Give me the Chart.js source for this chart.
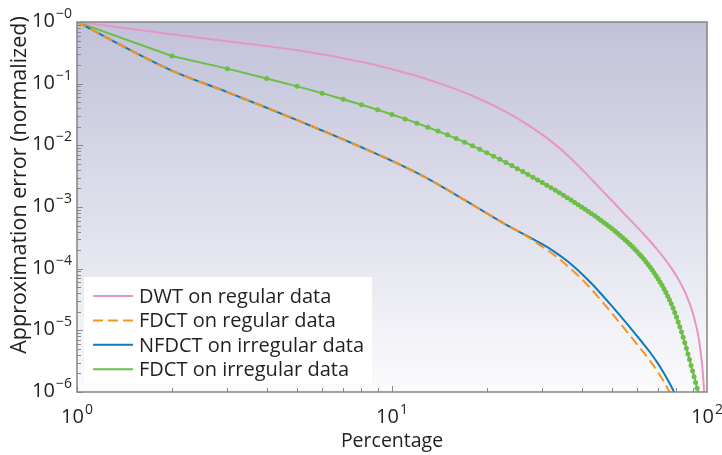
<!DOCTYPE html>
<html>
<head>
<meta charset="utf-8">
<script src="https://cdn.jsdelivr.net/npm/chart.js@4"></script>
<style>
  html, body { margin: 0; padding: 0; background: #fff; }
  canvas { display: block; }
</style>
</head>
<body>
<canvas id="grafico" width="722" height="455"></canvas>
<script>
// Error de aproximación (normalizado) frente al porcentaje de coeficientes, ejes log-log

const nombres = [
  "DWT on regular data",
  "FDCT on regular data",
  "NFDCT on irregular data",
  "FDCT on irregular data",
];

// DWT sobre datos regulares
const dwtPct = [1, 2, 3, 4, 5, 6, 7, 8, 9, 10, 12, 14, 16, 18, 20, 23, 26, 30, 33, 36,
  40, 43, 46, 50, 53, 56, 60, 63, 66, 70, 73, 76, 80, 83, 86, 90, 92, 94, 96, 97, 98, 99];
const dwtErr = [1, 0.635, 0.489, 0.407, 0.348, 0.299, 0.259, 0.225, 0.197, 0.172,
  0.133, 0.103, 0.0809, 0.0637, 0.05, 0.0348, 0.0243, 0.0149, 0.01026, 0.00698,
  0.00412, 0.00281, 0.00195, 0.00125, 0.000912, 0.000681, 0.000471, 0.000361, 0.000278, 0.000195,
  0.00015, 0.000113, 0.000076, 0.0000543, 0.0000371, 0.0000197, 0.0000129, 0.00000773, 0.00000351, 0.00000207,
  0.00000094, 0.0000003];

// FDCT regular y NFDCT comparten los mismos porcentajes
const fdctPct = [1, 2, 3, 4, 5, 6, 7, 8, 9, 10, 12, 14, 16, 18, 20, 23, 26, 30, 33, 36,
  40, 43, 46, 50, 53, 56, 60, 63, 66, 70, 73, 76, 78, 80];
const fdctRegErr = [1, 0.1626, 0.0731, 0.0407, 0.0256, 0.0174, 0.01249, 0.00931, 0.00714, 0.00561,
  0.00357, 0.00233, 0.00156, 0.00109, 0.000791, 0.000519, 0.000369, 0.000227, 0.000161, 0.000112,
  0.0000679, 0.0000461, 0.0000311, 0.0000187, 0.000013, 0.0000092, 0.00000594, 0.00000435, 0.00000319, 0.00000207,
  0.00000147, 0.00000101, 0.00000078, 0.0000006];
const nfdctErr = [1, 0.1626, 0.0731, 0.0407, 0.0256, 0.0174, 0.01249, 0.00931, 0.00714, 0.00561,
  0.00357, 0.00233, 0.00156, 0.00109, 0.000791, 0.000519, 0.000369, 0.000249, 0.000184, 0.000133,
  0.0000828, 0.0000574, 0.0000395, 0.0000244, 0.0000173, 0.0000124, 0.00000807, 0.00000593, 0.00000437, 0.00000286,
  0.00000202, 0.0000014, 0.00000108, 0.00000082];

// FDCT sobre datos irregulares (un marcador por cada porcentaje entero)
const irrPct = [1, 2, 3, 4, 5, 6, 7, 8, 9, 10, 11, 12, 13, 14, 15, 16, 17, 18, 19, 20,
  21, 22, 23, 24, 25, 26, 27, 28, 29, 30, 31, 32, 33, 34, 35, 36, 37, 38, 39, 40,
  41, 42, 43, 44, 45, 46, 47, 48, 49, 50, 51, 52, 53, 54, 55, 56, 57, 58, 59, 60,
  61, 62, 63, 64, 65, 66, 67, 68, 69, 70, 71, 72, 73, 74, 75, 76, 77, 78, 79, 80,
  81, 82, 83, 84, 85, 86, 87, 88, 89, 90, 91, 92, 93, 94];
const irrErr = [1, 0.2812, 0.1752, 0.1216, 0.0904, 0.0702, 0.05606, 0.04565, 0.0378, 0.0317,
  0.02685, 0.02291, 0.01969, 0.01702, 0.0148, 0.01288, 0.01124, 0.00983, 0.00862, 0.00757,
  0.00668, 0.00592, 0.00526, 0.00469, 0.00419, 0.00376, 0.00338, 0.00305, 0.002752, 0.002489,
  0.002256, 0.002048, 0.001862, 0.001696, 0.001547, 0.001414, 0.001294, 0.001186, 0.001089, 0.001,
  0.00092, 0.000846, 0.000779, 0.000718, 0.000662, 0.00061, 0.000563, 0.00052, 0.00048, 0.000443,
  0.000408, 0.000376, 0.000346, 0.000318, 0.000292, 0.000268, 0.000246, 0.000226, 0.000206, 0.000189,
  0.000172, 0.000157, 0.000143, 0.000129, 0.000117, 0.0001057, 0.00009506, 0.0000852, 0.0000762, 0.000068,
  0.0000605, 0.0000536, 0.0000472, 0.0000413, 0.000036, 0.0000312, 0.0000269, 0.000023, 0.0000195, 0.0000164,
  0.0000137, 0.0000114, 0.0000094, 0.0000077, 0.00000628, 0.0000051, 0.00000414, 0.00000335, 0.0000027, 0.00000219,
  0.00000176, 0.00000142, 0.00000115, 0.00000093];

// marcas de los ejes
const xTicks = [1, 10, 100];
const xTickExp = ["0", "1", "2"];
const yTicks = [1, 0.1, 0.01, 0.001, 0.0001, 0.00001, 0.000001];
const yTickExp = ["\u22120", "\u22121", "\u22122", "\u22123", "\u22124", "\u22125", "\u22126"];

const colores = ["#e796c3", "#f7941d", "#0b7dbd", "#6dbe45"];
const FUENTE = '"Open Sans", sans-serif';
const TEXTO = "#231f20";

const puntos = (xs, ys) => xs.map((x, i) => ({ x: x, y: ys[i] }));

function potencia(ctx, exp, x, y, align) {
  ctx.font = `20px ${FUENTE}`;
  const wb = ctx.measureText("10").width;
  ctx.font = `14px ${FUENTE}`;
  const we = ctx.measureText(exp).width;
  const total = wb + 1 + we;
  const left = align === "right" ? x - total : x - total / 2;
  ctx.textAlign = "left";
  ctx.textBaseline = "alphabetic";
  ctx.font = `20px ${FUENTE}`;
  ctx.fillText("10", left, y);
  ctx.font = `14px ${FUENTE}`;
  ctx.fillText(exp, left + wb + 1, y - 9);
}

const decorado = {
  id: "decorado",
  beforeDatasetsDraw(chart) {
    const { ctx, chartArea: a } = chart;
    const g = ctx.createLinearGradient(0, a.top, 0, a.bottom);
    g.addColorStop(0, "#c1c1d9");
    g.addColorStop(1, "#fbfbfd");
    ctx.save();
    ctx.fillStyle = g;
    ctx.fillRect(a.left, a.top, a.right - a.left, a.bottom - a.top);
    ctx.restore();
  },
  afterDatasetsDraw(chart) {
    const { ctx, chartArea: a, scales } = chart;
    const sx = scales.x, sy = scales.y;
    ctx.save();

    // marcas menores y mayores hacia dentro
    ctx.strokeStyle = "#8a8a8a";
    ctx.lineWidth = 1;
    ctx.beginPath();
    for (let e = 0; e < 2; e++) {
      for (let m = 1; m <= 9; m++) {
        const px = Math.round(sx.getPixelForValue(m * Math.pow(10, e))) + 0.5;
        const len = m === 1 ? 6 : 4;
        ctx.moveTo(px, a.bottom);
        ctx.lineTo(px, a.bottom - len);
      }
    }
    for (let e = -6; e < 0; e++) {
      for (let m = 1; m <= 9; m++) {
        const py = Math.round(sy.getPixelForValue(m * Math.pow(10, e))) + 0.5;
        const len = m === 1 ? 6 : 4;
        ctx.moveTo(a.left, py);
        ctx.lineTo(a.left + len, py);
      }
    }
    ctx.stroke();

    // marco
    ctx.strokeStyle = "#858585";
    ctx.lineWidth = 1.5;
    ctx.strokeRect(a.left, a.top, a.right - a.left, a.bottom - a.top);

    // leyenda
    ctx.fillStyle = "#ffffff";
    ctx.fillRect(84, 277, 288, 107);
    chart.data.datasets.forEach((ds, i) => {
      const yy = 296 + i * 24.4;
      ctx.strokeStyle = ds.borderColor;
      ctx.lineWidth = 2;
      ctx.setLineDash(ds.borderDash || []);
      ctx.beginPath();
      ctx.moveTo(93, yy);
      ctx.lineTo(133, yy);
      ctx.stroke();
      ctx.setLineDash([]);
      ctx.fillStyle = TEXTO;
      ctx.font = `20px ${FUENTE}`;
      ctx.textAlign = "left";
      ctx.textBaseline = "alphabetic";
      ctx.fillText(ds.label, 139, yy + 7);
    });

    // etiquetas de los ejes
    ctx.fillStyle = TEXTO;
    xTicks.forEach((v, i) => potencia(ctx, xTickExp[i], sx.getPixelForValue(v), a.bottom + 31, "center"));
    yTicks.forEach((v, i) => potencia(ctx, yTickExp[i], a.left - 5, sy.getPixelForValue(v) + 5, "right"));

    ctx.font = `19.5px ${FUENTE}`;
    ctx.textAlign = "center";
    ctx.textBaseline = "alphabetic";
    ctx.fillText("Percentage", (a.left + a.right) / 2, 447);

    ctx.translate(20, 185);
    ctx.rotate(-Math.PI / 2);
    ctx.font = `21.5px ${FUENTE}`;
    ctx.textBaseline = "middle";
    ctx.fillText("Approximation error (normalized)", 0, 0);
    ctx.restore();
  },
};

document.addEventListener("DOMContentLoaded", () => {
  const ctx = document.getElementById("grafico");
  new Chart(ctx, {
    type: "line",
    data: {
      datasets: [
        {
          label: nombres[0],
          data: puntos(dwtPct, dwtErr),
          borderColor: colores[0],
          borderWidth: 2,
          pointRadius: 0,
          cubicInterpolationMode: "monotone",
        },
        {
          label: nombres[1],
          data: puntos(fdctPct, fdctRegErr),
          borderColor: colores[1],
          borderWidth: 2,
          borderDash: [10, 5],
          pointRadius: 0,
          cubicInterpolationMode: "monotone",
        },
        {
          label: nombres[2],
          data: puntos(fdctPct, nfdctErr),
          borderColor: colores[2],
          borderWidth: 2,
          pointRadius: 0,
          cubicInterpolationMode: "monotone",
        },
        {
          label: nombres[3],
          data: puntos(irrPct, irrErr),
          borderColor: colores[3],
          backgroundColor: colores[3],
          borderWidth: 2,
          pointRadius: 2.5,
          pointBorderWidth: 0,
          pointBackgroundColor: colores[3],
        },
      ],
    },
    options: {
      responsive: false,
      animation: false,
      layout: { padding: { top: 22, right: 15, left: 0, bottom: 0 } },
      scales: {
        x: {
          type: "logarithmic",
          min: 1,
          max: 100,
          grid: { display: false },
          border: { display: false },
          ticks: { display: false },
          afterFit: (s) => { s.height = 63; },
        },
        y: {
          type: "logarithmic",
          min: 0.000001,
          max: 1,
          grid: { display: false },
          border: { display: false },
          ticks: { display: false },
          afterFit: (s) => { s.width = 77; },
        },
      },
      plugins: {
        legend: { display: false },
        tooltip: { enabled: false },
      },
    },
    plugins: [decorado],
  });
});
</script>
</body>
</html>
